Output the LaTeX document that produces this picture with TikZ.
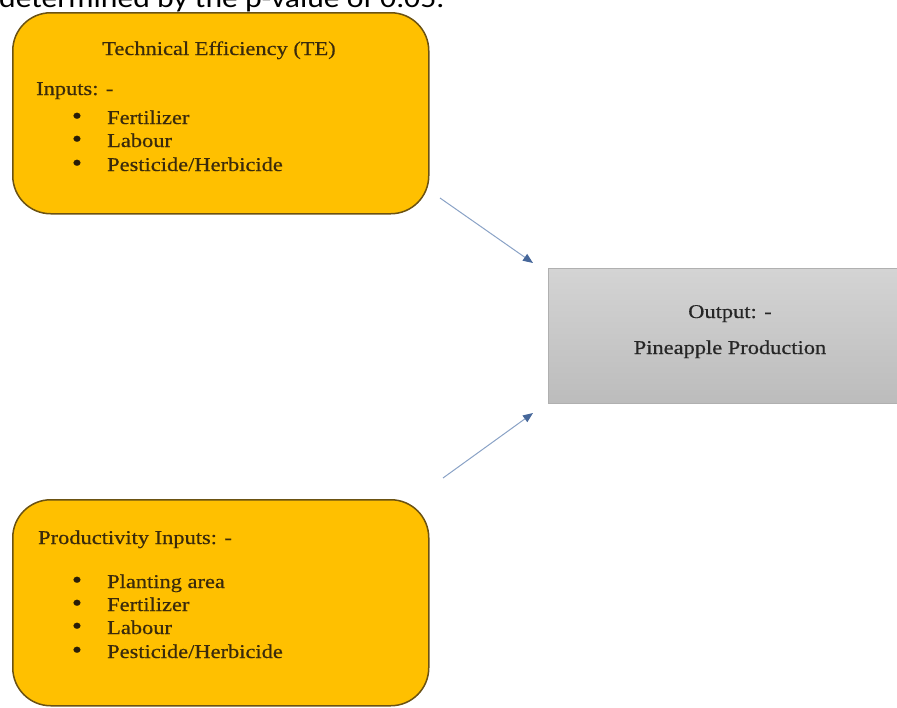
\documentclass[tikz,border=0pt]{standalone}
\usepackage{fontspec}
\setmainfont{Liberation Serif}
\newfontfamily\boxfont[FakeStretch=1.15,FakeBold=0.5]{Liberation Serif}
\newfontfamily\capfont[FakeStretch=1.15]{Carlito}
\usetikzlibrary{arrows.meta}
\definecolor{boxorange}{HTML}{FFC000}
\definecolor{boxedge}{HTML}{6B5212}
\definecolor{boxtext}{HTML}{3A2A0C}
\definecolor{graytop}{HTML}{D4D4D4}
\definecolor{graybot}{HTML}{BCBCBC}
\definecolor{grayedge}{HTML}{B0B0B0}
\definecolor{arrline}{HTML}{8AA2C6}
\definecolor{arrtip}{HTML}{46679A}
\begin{document}
\begin{tikzpicture}[x=1pt,y=-1pt,
  orangebox/.style={draw=boxedge, line width=1.5pt, fill=boxorange, rounded corners=38pt, inner sep=0pt, anchor=north west},
  graybox/.style={draw=grayedge, line width=0.8pt, top color=graytop, bottom color=graybot, inner sep=0pt, anchor=north west},
  boxtxt/.style={font=\boxfont\fontsize{19.5}{23}\selectfont, text=boxtext, inner sep=0pt, anchor=base west},
  bul/.style={font=\boxfont\fontsize{25}{23}\selectfont, text=boxtext!70!black, inner sep=0pt, anchor=base},
  outtxt/.style={font=\boxfont\fontsize{19.5}{23}\selectfont, text=black!85, inner sep=0pt, anchor=base},
  conn/.style={draw=arrline, line width=1pt, -{Triangle[length=10pt,width=8pt,color=arrtip]}}
]
\useasboundingbox (0,0) rectangle (897,707);
\clip (0,0) rectangle (897,707);

% cut-off caption line from the page above
\node[anchor=base west, inner sep=0pt, font=\capfont\fontsize{27.5}{30}\selectfont] (cap) at (-1,7) {determined by the p-value of 0.05.};

% top box: Technical Efficiency
\node[orangebox, minimum width=416pt, minimum height=201pt] (te) at (12,12) {};
\node[boxtxt, anchor=base] (tetitle) at (219,55) {Technical Efficiency (TE)};
\node[boxtxt] (teinputs) at (36,95) {Inputs: -};
\node[bul] (tb1) at (77,124) {•};
\node[boxtxt] (te1) at (107,124) {Fertilizer};
\node[bul] (tb2) at (77,147) {•};
\node[boxtxt] (te2) at (107,147) {Labour};
\node[bul] (tb3) at (77,171) {•};
\node[boxtxt] (te3) at (107,171) {Pesticide/Herbicide};

% bottom box: Productivity Inputs
\node[orangebox, minimum width=416pt, minimum height=206pt] (pi) at (12,499) {};
\node[boxtxt] (pititle) at (38,544) {Productivity Inputs: -};
\node[bul] (pb1) at (77,588) {•};
\node[boxtxt] (pi1) at (107,588) {Planting area};
\node[bul] (pb2) at (77,611) {•};
\node[boxtxt] (pi2) at (107,611) {Fertilizer};
\node[bul] (pb3) at (77,634) {•};
\node[boxtxt] (pi3) at (107,634) {Labour};
\node[bul] (pb4) at (77,658) {•};
\node[boxtxt] (pi4) at (107,658) {Pesticide/Herbicide};

% output box
\node[graybox, minimum width=360pt, minimum height=135pt] (out) at (548,268) {};
\node[outtxt] (outa) at (730,318) {Output: -};
\node[outtxt] (outb) at (730,354) {Pineapple Production};

% connectors
\coordinate (a1s) at (440,198);
\coordinate (a1e) at (533,263);
\coordinate (a2s) at (443,478);
\coordinate (a2e) at (533,413);
\draw[conn] (a1s) -- (a1e);
\draw[conn] (a2s) -- (a2e);
\end{tikzpicture}
\end{document}
